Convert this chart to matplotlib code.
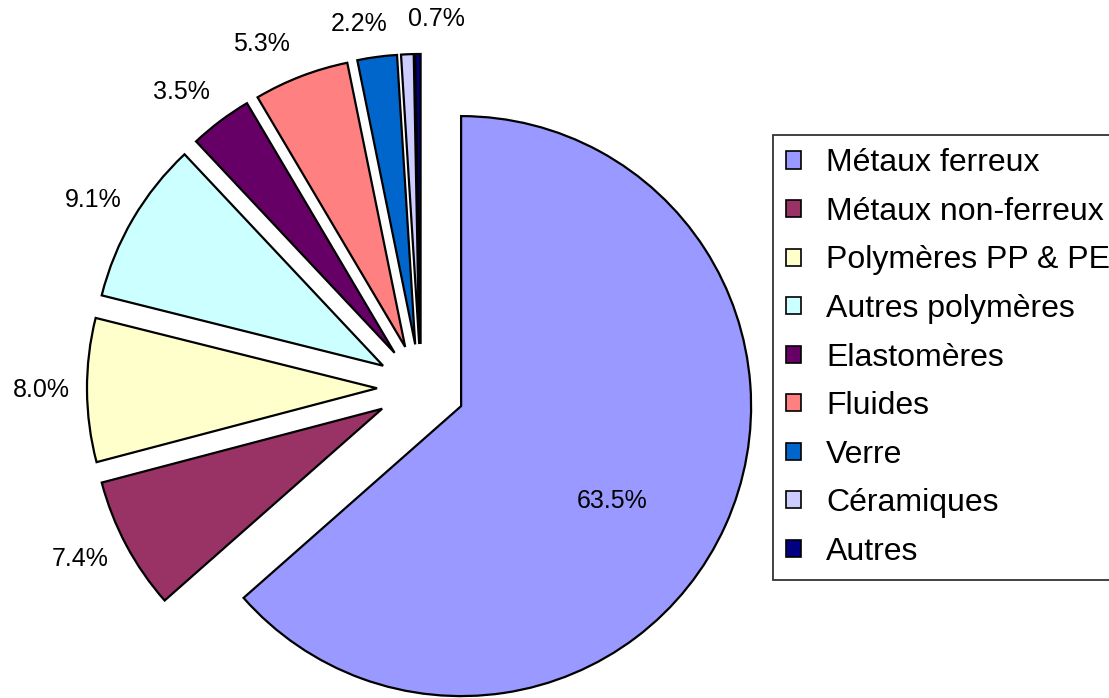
import numpy as np
import matplotlib
matplotlib.use("Agg")
import matplotlib.pyplot as plt
from matplotlib.patches import Patch

plt.rcParams['font.family'] = ['Liberation Sans', 'DejaVu Sans']

# composition (% masse)
names = ['Métaux ferreux', 'Métaux non-ferreux', 'Polymères PP & PE',
         'Autres polymères', 'Elastomères', 'Fluides', 'Verre',
         'Céramiques', 'Autres']
values = [63.5, 7.4, 8.0, 9.1, 3.5, 5.3, 2.2, 0.7, 0.3]
colors = ['#9999FF', '#993366', '#FFFFCC', '#CCFFFF', '#660066',
          '#FF8080', '#0066CC', '#CCCCFF', '#000080']
show_label = [True, True, True, True, True, True, True, True, False]

W, H = 1109, 698
fig = plt.figure(figsize=(W / 100, H / 100), dpi=100)
ax = fig.add_axes([0, 0, 1, 1])

R = 290
ctr = (421, H - 388)
wedges, _ = ax.pie(values, colors=colors, startangle=90, counterclock=False,
                   radius=R, center=ctr, explode=[44] * len(values),
                   wedgeprops=dict(edgecolor='black', linewidth=1.6))
ax.set_xlim(0, W)
ax.set_ylim(0, H)
ax.set_aspect('auto')
ax.axis('off')

# percentage labels: outside the wedge, pushed out by half the text box
# (small hand nudges where the labels crowd at the top, like Excel does)
hw, hh, gap = 28.5, 9, 17
nudge = {0: (-12, -21), 1: (-5, 8), 3: (0, -4), 4: (-14, -4), 5: (-27, -1),
         6: (-14, 3), 7: (30, 8)}
for i, w in enumerate(wedges):
    if not show_label[i]:
        continue
    th = np.deg2rad((w.theta1 + w.theta2) / 2)
    c, s = np.cos(th), np.sin(th)
    if i == 0:
        d = 0.615 * R
    else:
        d = R + gap + hw * abs(c) + hh * abs(s)
    dx, dy = nudge.get(i, (0, 0))
    x = w.center[0] + d * c + dx
    y = w.center[1] + d * s + dy
    ax.text(x, y, '%.1f%%' % values[i], ha='center', va='center', fontsize=18)

handles = [Patch(facecolor=c, edgecolor='black', linewidth=1.2) for c in colors]
leg = fig.legend(handles, names, loc='upper left', bbox_to_anchor=(773 / W, 1 - 135 / H),
                 fontsize=23, frameon=True, fancybox=False, edgecolor='black',
                 handlelength=0.45, handleheight=0.45, handletextpad=0.8,
                 labelspacing=0.58, borderpad=0.42, borderaxespad=0)
leg.get_frame().set_linewidth(1.3)

fig.savefig('out.png', dpi=100)
